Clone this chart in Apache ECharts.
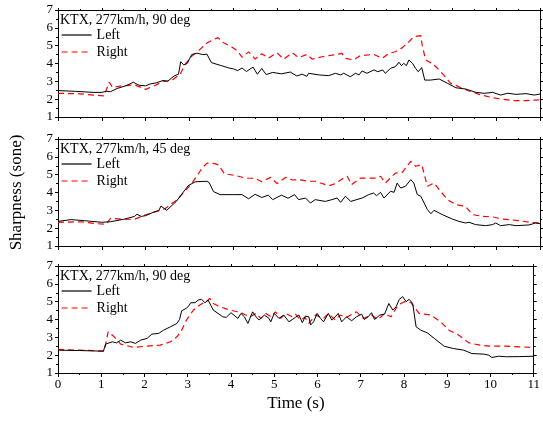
<!DOCTYPE html>
<html><head><meta charset="utf-8">
<script src="https://cdn.jsdelivr.net/npm/echarts@6/dist/echarts.min.js"></script>
<style>html,body{margin:0;padding:0;background:#fff}#c{width:543px;height:422px}</style>
</head><body><div id="c"></div>
<script>
const xTicks = [0,1,2,3,4,5,6,7,8,9,10,11];
const yTicks = [1,2,3,4,5,6,7];
const panelTitles = ['KTX, 277km/h, 90 deg','KTX, 277km/h, 45 deg','KTX, 277km/h, 90 deg'];
const seriesNames = ['Left','Right'];

const p1Left = [[0,2.48],[0.4,2.44],[0.8,2.38],[1.0,2.38],[1.1,2.44],[1.2,2.42],[1.35,2.6],[1.55,2.75],[1.72,2.95],[1.85,2.78],[2.0,2.75],[2.1,2.85],[2.25,2.92],[2.4,3.05],[2.5,3.0],[2.65,3.3],[2.75,3.4],[2.8,4.1],[2.87,3.92],[2.95,4.0],[3.05,4.5],[3.17,4.58],[3.3,4.5],[3.4,4.52],[3.5,4.05],[3.7,3.9],[3.9,3.75],[4.0,3.7],[4.1,3.6],[4.2,3.75],[4.3,3.55],[4.45,3.8],[4.55,3.4],[4.65,3.72],[4.75,3.38],[4.9,3.5],[5.1,3.42],[5.3,3.52],[5.45,3.3],
 [5.57,3.4],[5.68,3.28],[5.72,3.45],[5.95,3.36],[6.18,3.32],[6.33,3.45],[6.45,3.36],[6.52,3.45],[6.67,3.26],[6.79,3.45],[6.87,3.36],[6.94,3.58],[7.05,3.45],[7.21,3.64],[7.3,3.54],[7.41,3.64],[7.47,3.45],[7.59,3.73],[7.7,3.82],[7.78,4.07],[7.84,3.88],[7.89,4.01],[7.95,3.88],[8.01,4.2],[8.09,4.01],[8.16,3.73],[8.22,3.54],[8.3,3.77],[8.37,3.07],[8.5,3.07],[8.7,3.13],[8.89,2.89],[9.08,2.64],[9.3,2.57],[9.54,2.38],[9.73,2.33],[9.92,2.38],[10.1,2.23],[10.26,2.33],[10.45,2.27],[10.68,2.31],[10.87,2.23],[11,2.29]];
const p1Right = [[0,2.33],[0.5,2.3],[0.8,2.23],[1.05,2.18],[1.17,2.95],[1.25,2.65],[1.45,2.75],[1.75,2.8],[2.0,2.55],[2.2,2.75],[2.4,3.0],[2.6,3.05],[2.8,3.45],[2.9,3.95],[3.05,4.4],[3.2,4.7],[3.4,5.15],[3.55,5.35],[3.65,5.45],[3.75,5.2],[3.95,4.95],[4.1,4.7],[4.2,4.35],[4.35,4.65],[4.5,4.25],[4.65,4.55],[4.8,4.3],[5.0,4.6],[5.15,4.25],[5.35,4.6],[5.49,4.33],
 [5.68,4.51],[5.8,4.25],[6.03,4.38],[6.29,4.48],[6.48,4.57],[6.56,4.29],[6.75,4.2],[6.9,4.44],[7.21,4.51],[7.4,4.29],[7.55,4.57],[7.7,4.66],[7.86,4.89],[8.01,5.22],[8.12,5.5],[8.28,5.56],[8.31,5.04],[8.39,4.2],[8.54,4.0],[8.66,3.73],[8.8,3.36],[8.96,2.89],[9.15,2.7],[9.38,2.46],[9.61,2.27],[9.92,2.08],[10.15,2.0],[10.37,1.92],[10.68,1.92],[10.91,1.95],[11,1.97]];

const p2Left = [[0,2.38],[0.3,2.48],[0.6,2.42],[1.0,2.33],[1.2,2.36],[1.5,2.5],[1.75,2.66],[1.8,2.78],[1.9,2.66],[2.0,2.7],[2.2,2.92],[2.3,2.98],[2.35,3.24],[2.48,3.0],[2.7,3.5],[2.97,4.38],[3.13,4.6],[3.4,4.63],[3.45,4.55],[3.55,4.05],[3.7,3.88],[4.0,3.88],[4.2,3.88],[4.35,3.65],[4.5,3.9],[4.65,3.72],[4.8,3.85],[4.9,3.6],[5.1,3.85],[5.25,3.68],[5.4,3.88],
 [5.49,3.6],[5.65,3.69],[5.76,3.41],[5.87,3.6],[6.1,3.5],[6.25,3.6],[6.37,3.69],[6.45,3.45],[6.56,3.79],[6.68,3.5],[6.94,3.69],[7.09,3.88],[7.2,3.97],[7.27,3.82],[7.36,4.01],[7.44,3.69],[7.59,4.07],[7.67,4.01],[7.74,4.53],[7.82,4.25],[7.93,4.35],[8.05,4.72],[8.12,4.53],[8.2,3.88],[8.28,3.79],[8.43,3.04],[8.51,2.81],[8.58,3.0],[8.77,2.76],[9.0,2.51],[9.15,2.38],[9.3,2.29],[9.38,2.33],[9.53,2.2],[9.76,2.14],[9.92,2.2],[9.99,2.29],[10.1,2.14],[10.3,2.2],[10.45,2.14],[10.75,2.18],[10.9,2.29],[11,2.25]];
const p2Right = [[0,2.33],[0.5,2.36],[0.9,2.25],[1.1,2.22],[1.2,2.55],[1.5,2.5],[1.75,2.5],[2.0,2.75],[2.2,2.9],[2.45,3.1],[2.55,3.3],[2.7,3.55],[2.85,3.95],[3.05,4.5],[3.2,5.05],[3.3,5.4],[3.4,5.65],[3.58,5.62],[3.66,5.55],[3.8,5.05],[4.05,4.95],[4.3,4.8],[4.5,4.8],[4.65,4.6],[4.85,4.85],[5.0,4.5],[5.2,4.85],[5.35,4.7],
 [5.5,4.72],[5.7,4.63],[5.87,4.63],[6.18,4.38],[6.33,4.5],[6.52,4.81],[6.6,4.91],[6.7,4.44],[6.9,4.81],[7.25,4.81],[7.36,4.91],[7.47,4.53],[7.7,5.09],[7.86,5.13],[8.05,5.75],[8.16,5.47],[8.3,5.56],[8.43,4.35],[8.58,4.53],[8.73,4.07],[8.89,3.6],[9.08,3.32],[9.3,3.22],[9.46,2.76],[9.69,2.66],[9.92,2.63],[10.15,2.51],[10.45,2.44],[10.77,2.33],[11,2.29]];

const p3Left = [[0,2.28],[0.5,2.26],[0.8,2.24],[1.05,2.22],[1.1,2.62],[1.26,2.75],[1.35,2.69],[1.45,2.84],[1.56,2.69],[1.68,2.75],[1.79,2.66],[1.91,2.84],[2.06,2.94],[2.17,3.18],[2.33,3.22],[2.44,3.4],[2.6,3.59],[2.75,3.78],[2.81,4.0],[2.86,4.49],[2.96,4.62],[3.01,4.72],[3.07,4.94],[3.17,4.94],[3.24,5.09],[3.32,5.13],[3.4,4.94],[3.47,5.09],[3.59,4.53],[3.7,4.34],[3.81,4.15],[3.89,4.12],[4.0,4.38],[4.16,4.06],[4.23,4.34],[4.31,4.15],[4.39,3.78],[4.5,4.43],[4.58,4.15],[4.65,3.97],[4.77,4.25],[4.88,4.06],[4.92,3.87],[5.0,4.34],[5.11,4.06],[5.22,4.25],[5.34,3.87],
 [5.49,4.12],[5.57,4.25],[5.65,3.82],[5.72,4.19],[5.8,4.15],[5.84,3.69],[5.91,3.87],[5.99,4.34],[6.07,4.06],[6.14,3.87],[6.25,4.34],[6.33,3.97],[6.41,4.15],[6.48,4.34],[6.56,3.87],[6.67,4.15],[6.79,3.93],[6.9,4.15],[7.02,4.3],[7.08,4.0],[7.17,4.15],[7.25,4.38],[7.32,4.0],[7.44,4.25],[7.55,4.3],[7.65,4.9],[7.74,4.53],[7.82,4.72],[7.89,5.13],[7.97,5.28],[8.05,5.0],[8.12,5.13],[8.2,4.9],[8.28,3.59],[8.39,3.4],[8.54,3.25],[8.7,2.94],[8.93,2.5],[9.15,2.37],[9.38,2.28],[9.57,2.09],[9.84,2.06],[9.96,2.0],[10.03,1.87],[10.19,1.94],[10.37,1.91],[10.68,1.92],[11,1.94]];
const p3Right = [[0,2.32],[0.5,2.28],[1.0,2.24],[1.07,2.24],[1.16,3.31],[1.2,3.4],[1.3,3.03],[1.45,2.62],[1.75,2.43],[2.06,2.51],[2.36,2.56],[2.6,2.75],[2.75,3.03],[2.86,3.4],[2.97,3.97],[3.13,4.53],[3.28,4.81],[3.36,4.94],[3.43,5.0],[3.51,5.18],[3.59,4.9],[3.74,4.72],[3.97,4.53],[4.16,4.43],[4.27,4.34],[4.43,4.15],[4.58,4.34],[4.69,4.06],[4.81,4.34],[4.92,4.15],[5.03,4.43],[5.15,4.06],[5.26,4.34],[5.42,4.15],
 [5.49,4.3],[5.61,3.97],[5.71,4.12],[5.8,3.78],[5.95,4.25],[6.14,4.06],[6.25,4.34],[6.41,3.97],[6.52,4.25],[6.67,4.12],[6.9,4.43],[7.06,4.06],[7.25,4.25],[7.4,4.0],[7.55,4.34],[7.7,4.15],[7.86,4.81],[8.01,5.0],[8.16,4.94],[8.35,4.34],[8.62,4.25],[8.85,3.87],[9.04,3.4],[9.27,3.12],[9.5,2.69],[9.76,2.56],[9.99,2.51],[10.3,2.51],[10.68,2.47],[11,2.43]];

const panels = [[p1Left,p1Right],[p2Left,p2Right],[p3Left,p3Right]];
const FONT = '"Liberation Serif", "Times New Roman", serif';
const gridTops = [10, 139, 266];
const gridH = 107;

const grid=[], xAxis=[], yAxis=[], series=[], title=[], legend=[];
gridTops.forEach((top,i)=>{
  grid.push({left:58, right:3, top:top, height:gridH, containLabel:false});
  const isLast = i===2;
  xAxis.push({type:'value', gridIndex:i, min:0, max:11, interval:1, position:'bottom',
    axisLine:{onZero:false, lineStyle:{color:'#000', width:1}},
    axisTick:{show:true, inside:false, length:4, lineStyle:{color:'#000'}},
    minorTick:{show:true, splitNumber:2, length:2, lineStyle:{color:'#000'}},
    splitLine:{show:false},
    axisLabel:{show:isLast, margin:5, color:'#000', fontFamily:FONT, fontSize:13, formatter:v=>xTicks.includes(v)?String(v):''},
    name: isLast?'Time (s)':'', nameLocation:'middle', nameGap:22,
    nameTextStyle:{color:'#000', fontFamily:FONT, fontSize:17}
  });
  xAxis.push({type:'value', gridIndex:i, min:0, max:11, interval:1, position:'top',
    axisLine:{onZero:false, lineStyle:{color:'#000', width:1}},
    axisTick:{show:true, inside:false, length:2, lineStyle:{color:'#000'}},
    minorTick:{show:true, splitNumber:2, length:1, lineStyle:{color:'#000'}},
    splitLine:{show:false}, axisLabel:{show:false}
  });
  yAxis.push({type:'value', gridIndex:i, min:1, max:7, interval:1, position:'left',
    axisLine:{onZero:false, show:true, lineStyle:{color:'#000', width:1}},
    axisTick:{show:true, inside:false, length:3, lineStyle:{color:'#000'}},
    minorTick:{show:true, splitNumber:2, length:2, lineStyle:{color:'#000'}},
    splitLine:{show:false},
    axisLabel:{margin:5, color:'#000', fontFamily:FONT, fontSize:13, formatter:v=>yTicks.includes(v)?String(v):''},
    name: i===1?'Sharpness (sone)':'', nameLocation:'middle', nameGap:33,
    nameTextStyle:{color:'#000', fontFamily:FONT, fontSize:17}
  });
  yAxis.push({type:'value', gridIndex:i, min:1, max:7, interval:1, position:'right',
    axisLine:{onZero:false, show:true, lineStyle:{color:'#000', width:1}},
    axisTick:{show:true, inside:false, length:3, lineStyle:{color:'#000'}},
    minorTick:{show:true, splitNumber:2, length:2, lineStyle:{color:'#000'}},
    splitLine:{show:false}, axisLabel:{show:false}
  });
  series.push({name:seriesNames[0], type:'line', xAxisIndex:2*i, yAxisIndex:2*i, data:panels[i][0],
    symbol:'none', showSymbol:false, animation:false, z:3,
    lineStyle:{color:'#000', width:1}, itemStyle:{color:'#000'}});
  series.push({name:seriesNames[1], type:'line', xAxisIndex:2*i, yAxisIndex:2*i, data:panels[i][1],
    symbol:'none', showSymbol:false, animation:false, z:2,
    lineStyle:{color:'#ff0000', width:1.2, type:[6,4]}, itemStyle:{color:'#ff0000'}});
  title.push({text:panelTitles[i], left:60, top:top+3, padding:0,
    textStyle:{color:'#000', fontFamily:FONT, fontSize:14, fontWeight:'normal'}});
  legend.push({data:seriesNames.map(n=>({name:n, itemStyle:{opacity:0}})), orient:'vertical', left:61, top:top+18, padding:0,
    itemWidth:30, itemHeight:14, itemGap:3, lineStyle:{width:1.2},
    textStyle:{color:'#000', fontFamily:FONT, fontSize:14}, selectedMode:false});
});

const chart = echarts.init(document.getElementById('c'), null, {renderer:'canvas'});
chart.setOption({backgroundColor:'#fff', animation:false, grid, xAxis, yAxis, series, title, legend});
</script></body></html>
